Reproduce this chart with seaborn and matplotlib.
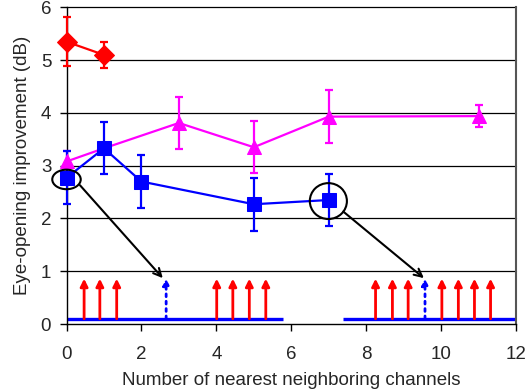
import matplotlib
matplotlib.use("Agg")
import matplotlib.pyplot as plt
from matplotlib.patches import Ellipse
import seaborn as sns
import pandas as pd

# ---- data ----
red_x = [0, 1]
red_y = [5.35, 5.10]
red_err = [0.47, 0.24]

mag_x = [0, 1, 3, 5, 7, 11]
mag_y = [3.08, 3.33, 3.81, 3.35, 3.93, 3.94]
mag_err = [0.19, 0.0, 0.50, 0.49, 0.50, 0.21]

blue_x = [0, 1, 2, 5, 7]
blue_y = [2.77, 3.33, 2.70, 2.27, 2.35]
blue_err = [0.50, 0.49, 0.50, 0.50, 0.50]

# schematic channel arrows
red_arrow_x = [0.47, 0.89, 1.34, 4.01, 4.44, 4.88, 5.32,
               8.25, 8.70, 9.12, 10.02, 10.46, 10.89, 11.32]
blue_arrow_x = [2.66, 9.57]
base_segments = [(0.0, 5.78), (7.39, 12.0)]
arrow_bottom, arrow_top = 0.1, 0.86

xticks = [0, 2, 4, 6, 8, 10, 12]
yticks = [0, 1, 2, 3, 4, 5, 6]
xlabel = "Number of nearest neighboring channels"
ylabel = "Eye-opening improvement (dB)"

sns.set_style("white")
plt.rcParams["font.family"] = ["Liberation Sans", "DejaVu Sans"]

fig = plt.figure(figsize=(5.32, 3.89), dpi=100)
ax = fig.add_axes([0.125, 0.167, 0.845, 0.814])

# gridlines
for yv in yticks[1:]:
    ax.axhline(yv, color="black", lw=0.9, zorder=0)

# schematic
for a, b in base_segments:
    ax.plot([a, b], [arrow_bottom, arrow_bottom], color="#0000ff", lw=2.4,
            solid_capstyle="butt", zorder=2)
for xv in red_arrow_x:
    ax.annotate("", xy=(xv, arrow_top), xytext=(xv, arrow_bottom),
                arrowprops=dict(arrowstyle="-|>", color="red", lw=2.0,
                                mutation_scale=11, shrinkA=0, shrinkB=0),
                zorder=3)
for xv in blue_arrow_x:
    ax.annotate("", xy=(xv, arrow_top), xytext=(xv, arrow_bottom),
                arrowprops=dict(arrowstyle="-|>", color="#0000ff", lw=2.0,
                                linestyle=":", mutation_scale=9,
                                shrinkA=0, shrinkB=0),
                zorder=3)

# series
series = [
    (red_x, red_y, red_err, "red", "D", 10),
    (mag_x, mag_y, mag_err, "magenta", "^", 10),
    (blue_x, blue_y, blue_err, "#0000ff", "s", 9.5),
]
for xs, ys, es, col, mk, ms in series:
    df = pd.DataFrame({"x": xs, "y": ys})
    sns.lineplot(data=df, x="x", y="y", ax=ax, color=col, marker=mk,
                 markersize=ms, markeredgecolor=col, lw=1.6, zorder=5)
    eb = ax.errorbar(xs, ys, yerr=es, fmt="none", ecolor=col, elinewidth=1.6,
                     capsize=3, capthick=1.6, zorder=4)
    for art in eb.get_children():
        art.set_clip_on(False)
for ln in ax.lines:
    ln.set_clip_on(False)

# circles and arrows
ax.add_patch(Ellipse((0.0, 2.74), 0.76, 0.37, fill=False, ec="black",
                     lw=1.5, clip_on=False, zorder=6))
ax.add_patch(Ellipse((6.99, 2.33), 0.99, 0.68, fill=False, ec="black",
                     lw=1.5, clip_on=False, zorder=6))
ax.annotate("", xy=(2.57, 0.87), xytext=(0.36, 2.63),
            arrowprops=dict(arrowstyle="->", color="black", lw=1.5,
                            mutation_scale=14, shrinkA=0, shrinkB=0), zorder=6)
ax.annotate("", xy=(9.54, 0.87), xytext=(7.39, 2.13),
            arrowprops=dict(arrowstyle="->", color="black", lw=1.5,
                            mutation_scale=14, shrinkA=0, shrinkB=0), zorder=6)

ax.set_xlim(0, 12)
ax.set_ylim(0, 6)
ax.set_xticks(xticks)
ax.set_yticks(yticks)
ax.tick_params(axis="both", labelsize=13.5, length=5, width=1, color="black",
               direction="out", bottom=True, left=True)
ax.tick_params(axis="x", pad=11)
ax.tick_params(axis="y", pad=6)
ax.set_xlabel(xlabel, fontsize=13.5, labelpad=6)
ax.set_ylabel(ylabel, fontsize=13.5, labelpad=7)

for s in ["left", "bottom"]:
    ax.spines[s].set_color("black")
    ax.spines[s].set_linewidth(1.0)
ax.spines["right"].set_color("#555555")
ax.spines["right"].set_linewidth(1.5)
ax.spines["top"].set_visible(False)

fig.savefig("out.png", dpi=100)
